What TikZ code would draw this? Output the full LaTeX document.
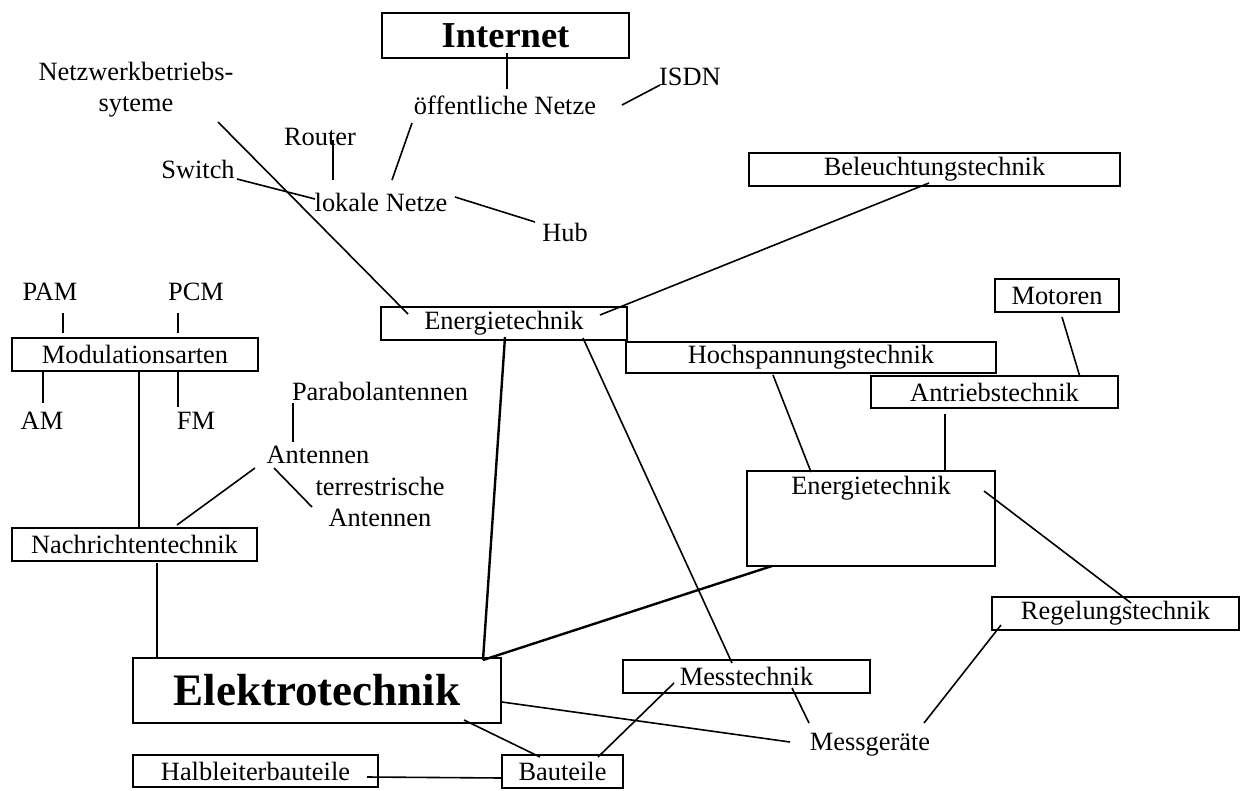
\documentclass[tikz,border=0pt]{standalone}
\usepackage{fontspec}
\setmainfont{Liberation Serif}
\newcommand\fsn{\fontsize{26.4}{31}\selectfont}
\newcommand\fsbig{\bfseries\fontsize{36.5}{40}\selectfont}
\newcommand\fshuge{\bfseries\fontsize{45}{48}\selectfont}
\tikzset{
  box/.style={draw, line width=1.5pt, inner sep=0pt, font=\fsn},
  lbl/.style={inner sep=0pt, font=\fsn, align=center},
  con/.style={line width=1.6pt},
  heavycon/.style={line width=2.4pt},
}
\begin{document}
\begin{tikzpicture}[x=1pt,y=-1pt]
\useasboundingbox (0,0) rectangle (1245,790);
% boxes
\node[box, minimum width=247pt, minimum height=45pt, font=\fsbig] (internet) at (505.5,35.5) {Internet};
\node[box, minimum width=246pt, minimum height=33pt] (energieA) at (504,323.5) {Energietechnik};
\node[box, minimum width=371pt, minimum height=33pt] (beleucht) at (934.5,169.5) {Beleuchtungstechnik};
\node[box, minimum width=124pt, minimum height=33pt] (motoren) at (1057,295.5) {Motoren};
\node[box, minimum width=370pt, minimum height=31pt] (hochsp) at (811,357.5) {Hochspannungstechnik};
\node[box, minimum width=247pt, minimum height=32pt] (antrieb) at (994.5,392) {Antriebstechnik};
\node[box, minimum width=248pt, text height=24pt, text depth=71pt, anchor=north] (energieB) at (871,470) {Energietechnik};
\node[box, minimum width=247pt, minimum height=33pt] (regel) at (1115.5,613.5) {Regelungstechnik};
\node[box, minimum width=247pt, minimum height=33pt] (mess) at (746.5,676.5) {Messtechnik};
\node[box, minimum width=368pt, minimum height=65pt, font=\fshuge] (elektro) at (317,690.5) {Elektrotechnik};
\node[box, minimum width=245pt, minimum height=32pt] (halb) at (255.5,771) {Halbleiterbauteile};
\node[box, minimum width=121pt, minimum height=33pt] (bauteile) at (562.5,771.5) {Bauteile};
\node[box, minimum width=246pt, minimum height=33pt] (modul) at (135,354.5) {Modulationsarten};
\node[box, minimum width=245pt, minimum height=33pt] (nachr) at (134.5,544.5) {Nachrichtentechnik};
% labels
\node[lbl] (oeff) at (505,105) {öffentliche Netze};
\node[lbl] (isdn) at (690,77) {ISDN};
\node[lbl] (lokal) at (381,202) {lokale Netze};
\node[lbl] (hub) at (565,232) {Hub};
\node[lbl] (router) at (320,137) {Router};
\node[lbl] (switch) at (198,169) {Switch};
\node[lbl] (netzwerk) at (136,90) {Netzwerkbetriebs-\\syteme};
\node[lbl] (pam) at (50,292) {PAM};
\node[lbl] (pcm) at (196,292) {PCM};
\node[lbl] (am) at (42,421) {AM};
\node[lbl] (fm) at (196,421) {FM};
\node[lbl] (parabol) at (380,391) {Parabolantennen};
\node[lbl] (antennen) at (318,455) {Antennen};
\node[lbl] (terr) at (380,502) {terrestrische\\Antennen};
\node[lbl] (messger) at (870,745) {Messgeräte};
% connector end points
\coordinate (c1a) at (507,53);   \coordinate (c1b) at (507,89);
\coordinate (c2a) at (622,105);  \coordinate (c2b) at (660,85);
\coordinate (c3a) at (412,123);  \coordinate (c3b) at (392,180);
\coordinate (c4a) at (455,197);  \coordinate (c4b) at (535,222);
\coordinate (c5a) at (333,140);  \coordinate (c5b) at (333,180);
\coordinate (c6a) at (237,179);  \coordinate (c6b) at (315,199);
\coordinate (c7a) at (218,122);  \coordinate (c7b) at (408,314);
\coordinate (c8a) at (929,183);  \coordinate (c8b) at (600,315);
\coordinate (c9a) at (505,337);  \coordinate (ej) at (483,660);
\coordinate (c10a) at (583,338); \coordinate (c10b) at (732,663);
\coordinate (c11a) at (773,375); \coordinate (c11b) at (811,472);
\coordinate (c12a) at (945,414); \coordinate (c12b) at (945,472);
\coordinate (c13a) at (1062,317);\coordinate (c13b) at (1080,377);
\coordinate (c14a) at (984,491); \coordinate (c14b) at (1131,603);
\coordinate (c15b) at (772,566);
\coordinate (c16a) at (1001,625);\coordinate (c16b) at (924,723);
\coordinate (c17a) at (792,688); \coordinate (c17b) at (809,723);
\coordinate (c18a) at (502,702); \coordinate (c18b) at (790,742);
\coordinate (c19a) at (674,683); \coordinate (c19b) at (598,757);
\coordinate (c20a) at (464,720); \coordinate (c20b) at (540,757);
\coordinate (c21a) at (367,777); \coordinate (c21b) at (502,778);
\coordinate (c22a) at (157,563); \coordinate (c22b) at (157,659);
\coordinate (c23a) at (139,371); \coordinate (c23b) at (139,527);
\coordinate (c24a) at (63,313);  \coordinate (c24b) at (63,333);
\coordinate (c25a) at (178,313); \coordinate (c25b) at (178,333);
\coordinate (c26a) at (43,372);  \coordinate (c26b) at (43,403);
\coordinate (c27a) at (178,372); \coordinate (c27b) at (178,407);
\coordinate (c28a) at (293,403); \coordinate (c28b) at (293,442);
\coordinate (c29a) at (255,468); \coordinate (c29b) at (177,525);
\coordinate (c30a) at (274,468); \coordinate (c30b) at (312,507);
% connectors
\draw[con] (c1a) -- (c1b);
\draw[con] (c2a) -- (c2b);
\draw[con] (c3a) -- (c3b);
\draw[con] (c4a) -- (c4b);
\draw[con] (c5a) -- (c5b);
\draw[con] (c6a) -- (c6b);
\draw[con] (c7a) -- (c7b);
\draw[con] (c8a) -- (c8b);
\draw[heavycon] (c9a) -- (ej);
\draw[con] (c10a) -- (c10b);
\draw[con] (c11a) -- (c11b);
\draw[con] (c12a) -- (c12b);
\draw[con] (c13a) -- (c13b);
\draw[con] (c14a) -- (c14b);
\draw[heavycon] (ej) -- (c15b);
\draw[con] (c16a) -- (c16b);
\draw[con] (c17a) -- (c17b);
\draw[con] (c18a) -- (c18b);
\draw[con] (c19a) -- (c19b);
\draw[con] (c20a) -- (c20b);
\draw[con] (c21a) -- (c21b);
\draw[heavycon] (c22a) -- (c22b);
\draw[con] (c23a) -- (c23b);
\draw[con] (c24a) -- (c24b);
\draw[con] (c25a) -- (c25b);
\draw[con] (c26a) -- (c26b);
\draw[con] (c27a) -- (c27b);
\draw[con] (c28a) -- (c28b);
\draw[con] (c29a) -- (c29b);
\draw[con] (c30a) -- (c30b);
\end{tikzpicture}
\end{document}
